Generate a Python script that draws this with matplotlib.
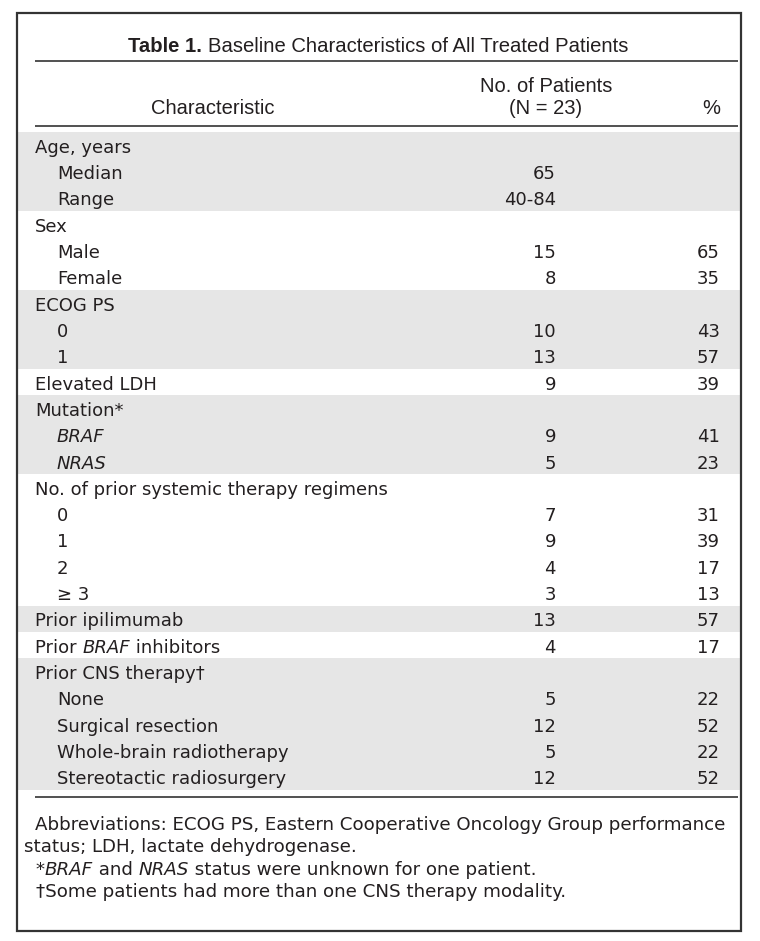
import matplotlib
matplotlib.use("Agg")
import matplotlib.pyplot as plt
from matplotlib import font_manager as fm
from matplotlib.patches import Rectangle

# ---------------- data ----------------
title_bold = "Table 1."
title_rest = "Baseline Characteristics of All Treated Patients"
col_headers = ["Characteristic", "No. of Patients\n(N = 23)", "%"]

labels = ["Age, years", "Median", "Range",
          "Sex", "Male", "Female",
          "ECOG PS", "0", "1",
          "Elevated LDH",
          "Mutation*", "BRAF", "NRAS",
          "No. of prior systemic therapy regimens", "0", "1", "2", "\u2265 3",
          "Prior ipilimumab",
          "Prior BRAF inhibitors",
          "Prior CNS therapy\u2020", "None", "Surgical resection",
          "Whole-brain radiotherapy", "Stereotactic radiosurgery"]
indent = [0, 1, 1, 0, 1, 1, 0, 1, 1, 0, 0, 1, 1, 0, 1, 1, 1, 1, 0, 0, 0, 1, 1, 1, 1]
n_patients = ["", "65", "40-84", "", "15", "8", "", "10", "13", "9", "", "9", "5",
              "", "7", "9", "4", "3", "13", "4", "", "5", "12", "5", "12"]
percent = ["", "", "", "", "65", "35", "", "43", "57", "39", "", "41", "23",
           "", "31", "39", "17", "13", "57", "17", "", "22", "52", "22", "52"]
group = [0, 0, 0, 1, 1, 1, 2, 2, 2, 3, 4, 4, 4, 5, 5, 5, 5, 5, 6, 7, 8, 8, 8, 8, 8]

footnote_abbrev_1 = "Abbreviations: ECOG PS, Eastern Cooperative Oncology Group performance"
footnote_abbrev_2 = "status; LDH, lactate dehydrogenase."
footnote_mut = [("*", "normal"), ("BRAF", "italic"), (" and ", "normal"), ("NRAS", "italic"),
                (" status were unknown for one patient.", "normal")]
footnote_cns = "\u2020Some patients had more than one CNS therapy modality."

# ---------------- fonts ----------------
avail = {f.name for f in fm.fontManager.ttflist}
narrow = "Liberation Sans Narrow" if "Liberation Sans Narrow" in avail else "Liberation Sans"
body_font = "DejaVu Sans"
TXT = "#231f20"
GRAY = "#e6e6e6"

W, H = 760, 941
fig = plt.figure(figsize=(W / 100, H / 100), dpi=100)
ax = fig.add_axes([0, 0, 1, 1])
ax.set_xlim(0, W)
ax.set_ylim(H, 0)
ax.axis("off")
fig.canvas.draw()
r = fig.canvas.get_renderer()

# outer border
ax.add_patch(Rectangle((17, 13), 724, 918, fill=False, lw=1.6, ec="#333333", zorder=5))

# title
tfs = 14.6
t1 = ax.text(0, 52, title_bold + " ", family=narrow, weight="bold", fontsize=tfs,
             color=TXT, va="baseline", ha="left")
t2 = ax.text(0, 52, title_rest, family=narrow, fontsize=tfs, color=TXT,
             va="baseline", ha="left")
w1 = t1.get_window_extent(r).width
w2 = t2.get_window_extent(r).width
x0 = 378 - (w1 + w2) / 2
t1.set_x(x0)
t2.set_x(x0 + w1)

# rules
for y in (61, 126, 797):
    ax.plot([35, 738], [y, y], color="#222222", lw=1.1, solid_capstyle="butt")

# headers
hdr_fs = 14.5
ax.text(213, 114, col_headers[0], family=narrow, fontsize=hdr_fs, color=TXT,
        ha="center", va="baseline")
h1, h2 = col_headers[1].split("\n")
ax.text(546, 92, h1, family=narrow, fontsize=hdr_fs, color=TXT, ha="center", va="baseline")
ax.text(546, 114, h2, family=narrow, fontsize=hdr_fs, color=TXT, ha="center", va="baseline")
ax.text(720, 114, col_headers[2], family=narrow, fontsize=hdr_fs, color=TXT, ha="right", va="baseline")

# body rows
top, bottom = 132, 790
nrows = len(labels)
rh = (bottom - top) / nrows
fs = 12.95
italic_words = {"BRAF", "NRAS"}
for i, lab in enumerate(labels):
    y0 = top + i * rh
    if group[i] % 2 == 0:
        ax.add_patch(Rectangle((18, y0), 722, rh, color=GRAY, lw=0, zorder=0))
    yb = y0 + rh / 2 + 7.5
    x = 35 + 22 * indent[i]
    if lab in italic_words:
        ax.text(x, yb, lab, family=body_font, style="italic", fontsize=fs, color=TXT, va="baseline")
    elif lab == "Prior BRAF inhibitors":
        a = ax.text(x, yb, "Prior ", family=body_font, fontsize=fs, color=TXT, va="baseline")
        wa = a.get_window_extent(r).width
        b = ax.text(x + wa, yb, "BRAF", family=body_font, style="italic", fontsize=fs, color=TXT, va="baseline")
        wb = b.get_window_extent(r).width
        ax.text(x + wa + wb, yb, " inhibitors", family=body_font, fontsize=fs, color=TXT, va="baseline")
    else:
        ax.text(x, yb, lab, family=body_font, fontsize=fs, color=TXT, va="baseline")
    if n_patients[i]:
        ax.text(556, yb, n_patients[i], family=body_font, fontsize=fs, color=TXT, ha="right", va="baseline")
    if percent[i]:
        ax.text(720, yb, percent[i], family=body_font, fontsize=fs, color=TXT, ha="right", va="baseline")

# footnotes
ffs = 13.15
fy = [830, 852, 875, 897]
ax.text(35, fy[0], footnote_abbrev_1, family=body_font, fontsize=ffs, color=TXT, va="baseline")
ax.text(24, fy[1], footnote_abbrev_2, family=body_font, fontsize=ffs, color=TXT, va="baseline")
xx = 36
for s, st in footnote_mut:
    tt = ax.text(xx, fy[2], s, family=body_font, style=st, fontsize=ffs, color=TXT, va="baseline")
    xx += tt.get_window_extent(r).width
ax.text(36, fy[3], footnote_cns, family=body_font, fontsize=ffs, color=TXT, va="baseline")

fig.savefig("out.png", dpi=100, facecolor="white")
